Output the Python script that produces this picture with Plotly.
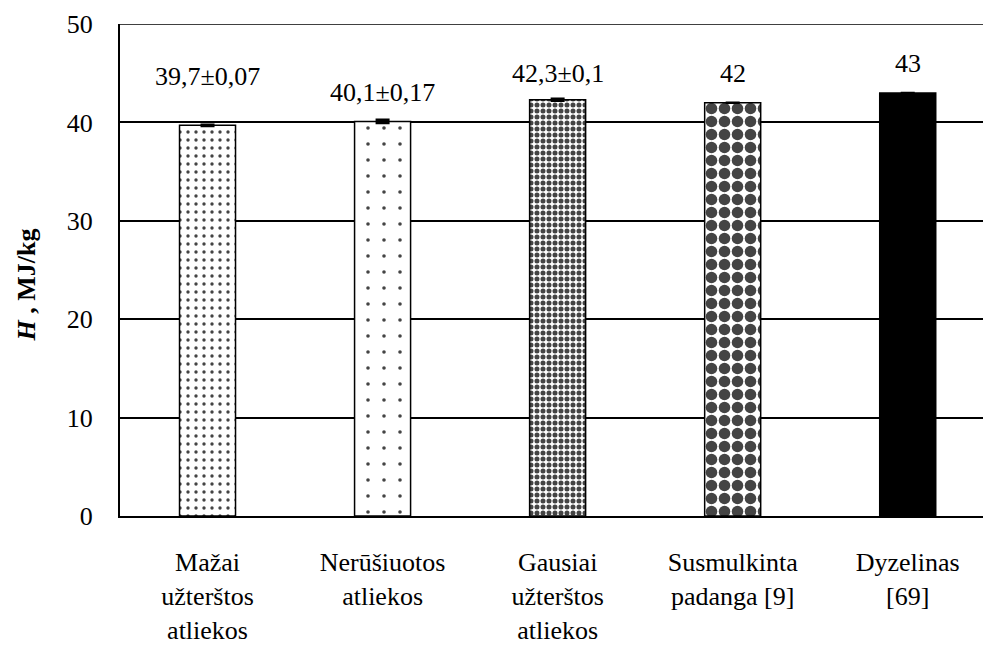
import plotly.graph_objects as go

# Heating value of the samples and reference fuels
categories = [
    "Mažai<br>užterštos<br>atliekos",
    "Nerūšiuotos<br>atliekos",
    "Gausiai<br>užterštos<br>atliekos",
    "Susmulkinta<br>padanga [9]",
    "Dyzelinas<br>[69]",
]
values = [39.7, 40.1, 42.3, 42.0, 43.0]
errors = [0.07, 0.17, 0.1, 0.0, 0.0]
value_labels = ["39,7±0,07", "40,1±0,17", "42,3±0,1", "42", "43"]
y_ticks = [0, 10, 20, 30, 40, 50]

FONT = "Liberation Serif"
TEXT_FONT = dict(family=FONT, size=26, color="black", weight=400, style="normal")
x = list(range(len(categories)))

# Fill pattern per bar: (shape, tile size, solidity)
patterns = [
    (".", 8, 0.14),
    (".", 16, 0.04),
    (".", 6, 0.55),
    (".", 13, 0.62),
    ("", 8, 1.0),
]

fig = go.Figure()
fig.add_trace(go.Bar(
    x=x,
    y=values,
    width=0.32,
    marker=dict(
        color=["white", "white", "white", "white", "black"],
        line=dict(color="black", width=1.5),
        pattern=dict(
            shape=[p[0] for p in patterns],
            size=[p[1] for p in patterns],
            solidity=[p[2] for p in patterns],
            fgcolor="black",
            fgopacity=1,
            bgcolor="white",
            fillmode="overlay",
        ),
    ),
    error_y=dict(type="data", array=errors, visible=True,
                 color="black", thickness=2.5, width=7),
    hoverinfo="skip",
    showlegend=False,
))

# Value labels above each bar
label_shift = [49, 29, 26, 29, 29]
for xi, v, txt, s in zip(x, values, value_labels, label_shift):
    fig.add_annotation(x=xi, y=v, text=txt, showarrow=False,
                       yshift=s, xanchor="center", yanchor="middle",
                       font=TEXT_FONT)

# Gridline at the top of the value range
fig.add_shape(type="line", xref="paper", yref="y", x0=0, x1=1, y0=50, y1=50,
              line=dict(color="black", width=1.5))

fig.update_layout(
    width=983, height=655,
    margin=dict(l=120, r=0, t=24, b=139),
    paper_bgcolor="white", plot_bgcolor="white",
    font=TEXT_FONT,
    xaxis=dict(
        range=[-0.5, 4.43],
        tickvals=x, ticktext=categories,
        showgrid=False, zeroline=False,
        showline=True, linecolor="black", linewidth=2,
        ticks="outside", ticklen=0, ticklabelstandoff=22,
        tickfont=TEXT_FONT,
    ),
    yaxis=dict(
        range=[0, 50],
        tickvals=y_ticks,
        showgrid=True, gridcolor="black", gridwidth=1.5,
        zeroline=False,
        showline=True, linecolor="black", linewidth=2,
        ticks="outside", ticklen=0, ticklabelstandoff=20,
        tickfont=TEXT_FONT,
    ),
)

# Rotated y-axis title
fig.add_annotation(xref="paper", yref="paper", x=-0.108, y=0.47,
                   text="<b><i>H</i> , MJ/kg</b>", showarrow=False,
                   textangle=-90, xanchor="center", yanchor="middle",
                   font=dict(family=FONT, size=26, color="black"))

fig.write_html("out.html")
